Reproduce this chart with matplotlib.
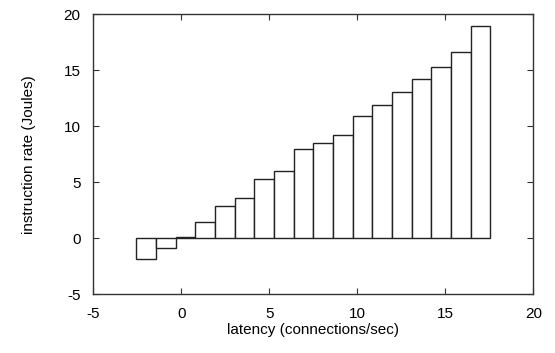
import numpy as np
import matplotlib
matplotlib.use('Agg')
import matplotlib.pyplot as plt

plt.rcParams['font.family'] = ['Liberation Sans', 'DejaVu Sans']
plt.rcParams['axes.unicode_minus'] = False

# Data
latency = np.linspace(-2, 17, 18)
rate = [-1.91, -0.92, 0.12, 1.43, 2.83, 3.60, 5.24, 6.02, 7.92, 8.46,
        9.23, 10.90, 11.92, 13.08, 14.21, 15.25, 16.65, 18.98]
xticks = [-5, 0, 5, 10, 15, 20]
yticks = [-5, 0, 5, 10, 15, 20]

fig = plt.figure(figsize=(5.55, 3.53), dpi=100)
ax = fig.add_axes([0.168, 0.167, 0.793, 0.7925])

width = latency[1] - latency[0]
ax.bar(latency, rate, width=width, color='white', edgecolor='#222222',
       linewidth=1.0, align='center')

ax.set_xlim(-5, 20)
ax.set_ylim(-5, 20)
ax.set_xticks(xticks)
ax.set_yticks(yticks)
ax.tick_params(direction='in', length=4, width=0.8, top=True, right=True,
               labelsize=11, color='#333333')
ax.tick_params(axis='x', pad=9)
ax.tick_params(axis='y', pad=9)
for s in ax.spines.values():
    s.set_color('#333333')
    s.set_linewidth(1.0)

ax.set_xlabel('latency (connections/sec)', fontsize=11, labelpad=2)
ax.set_ylabel('instruction rate (Joules)', fontsize=11, labelpad=20)

fig.savefig('out.png', dpi=100)
